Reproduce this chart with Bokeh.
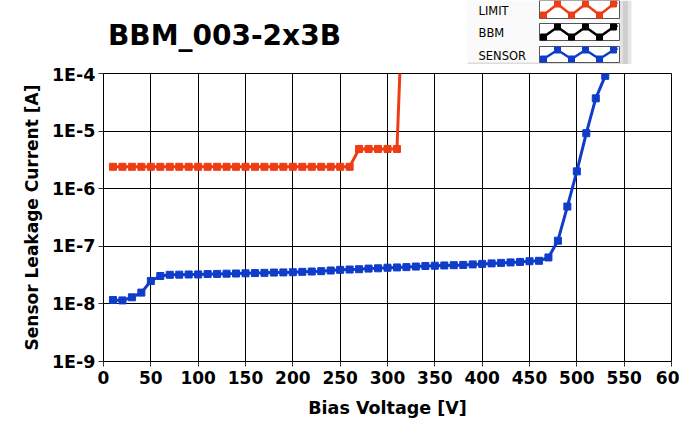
from bokeh.plotting import figure
from bokeh.layouts import column
from bokeh.models import Range1d, FixedTicker
from bokeh.embed import file_html
from bokeh.resources import INLINE
from bokeh.core.properties import value

# ---------------- data ----------------
TITLE = "BBM_003-2x3B"
X_LABEL = "Bias Voltage [V]"
Y_LABEL = "Sensor Leakage Current [A]"

X_TICKS = [0, 50, 100, 150, 200, 250, 300, 350, 400, 450, 500, 550, 600]
# the last label is cut by the window edge in the reference ("60")
X_TICK_LABELS = ["0", "50", "100", "150", "200", "250", "300", "350", "400",
                 "450", "500", "550", "60"]
Y_TICKS = [1e-9, 1e-8, 1e-7, 1e-6, 1e-5, 1e-4]
Y_TICK_LABELS = ["1E-9", "1E-8", "1E-7", "1E-6", "1E-5", "1E-4"]

LIMIT_V = [10, 20, 30, 40, 50, 60, 70, 80, 90, 100, 110, 120, 130, 140, 150,
           160, 170, 180, 190, 200, 210, 220, 230, 240, 250, 260,
           270, 280, 290, 300, 310, 320]
LIMIT_I = [2.4e-6] * 26 + [4.9e-6] * 5 + [1e-1]

SENSOR_V = [10, 20, 30, 40, 50, 60, 70, 80, 90, 100, 110, 120, 130, 140, 150,
            160, 170, 180, 190, 200, 210, 220, 230, 240, 250, 260, 270, 280,
            290, 300, 310, 320, 330, 340, 350, 360, 370, 380, 390, 400, 410,
            420, 430, 440, 450, 460, 470, 480, 490, 500, 510, 520, 530]
SENSOR_I = [1.17e-8, 1.15e-8, 1.30e-8, 1.57e-8, 2.50e-8, 3.05e-8, 3.20e-8,
            3.22e-8, 3.24e-8, 3.25e-8, 3.30e-8, 3.32e-8, 3.35e-8, 3.37e-8,
            3.40e-8, 3.43e-8, 3.46e-8, 3.50e-8, 3.52e-8, 3.55e-8, 3.60e-8,
            3.65e-8, 3.70e-8, 3.80e-8, 3.90e-8, 3.95e-8, 4.00e-8, 4.10e-8,
            4.15e-8, 4.25e-8, 4.30e-8, 4.35e-8, 4.45e-8, 4.55e-8, 4.60e-8,
            4.65e-8, 4.70e-8, 4.75e-8, 4.85e-8, 4.95e-8, 5.05e-8, 5.15e-8,
            5.25e-8, 5.35e-8, 5.50e-8, 5.60e-8, 6.40e-8, 1.25e-7, 4.90e-7,
            2.00e-6, 9.20e-6, 3.70e-5, 9.10e-5]

LEGEND_NAMES = ["LIMIT", "BBM", "SENSOR"]
LEGEND_COLORS = ["#EE3D14", "#000000", "#0F3CC9"]
ZIGZAG = [0, 1, 0, 1, 0, 1]          # legend sample pattern (low/high)

LIMIT_COLOR = LEGEND_COLORS[0]
SENSOR_COLOR = LEGEND_COLORS[2]
FONT = "DejaVu Sans"

W = 679
FRAME_L = 103
FRAME_R = 8

# ---------------- header (title + legend panel) ----------------
# header data coords: x = pixel x, y = HH - pixel y
HH = 64
hdr = figure(width=W, height=HH, x_range=Range1d(FRAME_L, W - FRAME_R),
             y_range=Range1d(0, HH),
             output_backend="svg", toolbar_location=None,
             x_axis_location=None, y_axis_location=None,
             min_border_left=FRAME_L, min_border_right=FRAME_R,
             min_border_top=0, min_border_bottom=0,
             outline_line_color=None)
hdr.xgrid.visible = False
hdr.ygrid.visible = False
hdr.background_fill_color = "white"
hdr.border_fill_color = "white"

hdr.text(x=[107.5], y=[HH - 35], text=[TITLE], text_font=value(FONT),
         text_font_style="bold", text_font_size="28px",
         text_color="black", text_align="left", text_baseline="middle")

# legend panel
hdr.quad(left=[467], right=[621], bottom=[1], top=[HH], fill_color="#FAFAFA",
         line_color=None)
hdr.quad(left=[619], right=[622], bottom=[1], top=[HH], fill_color="#E4E4E4",
         line_color=None)
hdr.quad(left=[622], right=[628], bottom=[0], top=[HH], fill_color="#CFCFCF",
         line_color=None)
hdr.quad(left=[628], right=[631], bottom=[0], top=[HH], fill_color="#E6E6E6",
         line_color=None)
hdr.quad(left=[467], right=[622], bottom=[0], top=[2], fill_color="#DCDCDC",
         line_color=None)

# rows (pixel y from top): box top/bottom and text centre
box_top_px = [0, 23, 46]
box_bot_px = [18, 40, 62]
text_px = [10, 32, 55]
for name, col, btp, bbp, tp in zip(LEGEND_NAMES, LEGEND_COLORS, box_top_px,
                                   box_bot_px, text_px):
    bt, bb, ty = HH - btp, HH - bbp, HH - tp
    hdr.text(x=[478], y=[ty], text=[name], text_font=value(FONT),
             text_font_size="11.5px", text_color="black",
             text_align="left", text_baseline="middle")
    hdr.quad(left=[539], right=[619], bottom=[bb], top=[bt],
             fill_color="white", line_color="#555555", line_width=1)
    zx = [543 + 14 * i for i in range(len(ZIGZAG))]
    zy = [bb + 3.5 + z * (bt - bb - 7) for z in ZIGZAG]
    hdr.line(zx + [617], zy + [zy[-1] + 1.5], line_color=col, line_width=2.5)
    hdr.scatter(zx, zy, marker="square", size=6, color=col)

# ---------------- main plot ----------------
p = figure(width=W, height=425 - HH, x_range=Range1d(0, 600),
           y_range=Range1d(1e-9, 1e-4), y_axis_type="log",
           output_backend="svg", toolbar_location=None,
           min_border_left=FRAME_L, min_border_right=FRAME_R,
           min_border_top=9, min_border_bottom=64)
p.background_fill_color = "white"
p.border_fill_color = "white"
p.outline_line_color = "black"
p.outline_line_width = 1

p.xaxis.ticker = FixedTicker(ticks=X_TICKS, minor_ticks=[])
p.yaxis.ticker = FixedTicker(ticks=Y_TICKS, minor_ticks=[])
p.xgrid.ticker = FixedTicker(ticks=X_TICKS, minor_ticks=[])
p.ygrid.ticker = FixedTicker(ticks=Y_TICKS, minor_ticks=[])
p.xaxis.major_label_overrides = dict(zip(X_TICKS, X_TICK_LABELS))
p.yaxis.major_label_overrides = dict(zip(Y_TICKS, Y_TICK_LABELS))

for g in (p.xgrid, p.ygrid):
    g.grid_line_color = "black"
    g.grid_line_alpha = 1.0
    g.grid_line_width = 1

for ax in (p.xaxis, p.yaxis):
    ax.axis_line_color = "black"
    ax.major_tick_line_color = "#333333"
    ax.major_tick_out = 5
    ax.major_tick_in = 0
    ax.minor_tick_line_color = None
    ax.major_label_text_font = FONT
    ax.major_label_text_font_style = "bold"
    ax.major_label_text_color = "black"
    ax.axis_label_text_font = FONT
    ax.axis_label_text_font_style = "bold"
    ax.axis_label_text_color = "black"

p.xaxis.major_label_text_font_size = "17px"
p.yaxis.major_label_text_font_size = "17.5px"
p.xaxis.axis_label_text_font_size = "17.5px"
p.yaxis.axis_label_text_font_size = "17px"
p.xaxis.axis_label = X_LABEL
p.yaxis.axis_label = Y_LABEL
p.xaxis.major_label_standoff = 4
p.yaxis.major_label_standoff = 3
p.xaxis.axis_label_standoff = 11
p.yaxis.axis_label_standoff = 7

p.line(LIMIT_V, LIMIT_I, line_color=LIMIT_COLOR, line_width=3)
p.scatter(LIMIT_V, LIMIT_I, marker="square", size=7, color=LIMIT_COLOR)
p.line(SENSOR_V, SENSOR_I, line_color=SENSOR_COLOR, line_width=3)
p.scatter(SENSOR_V, SENSOR_I, marker="square", size=7, color=SENSOR_COLOR)

layout = column(hdr, p, spacing=0)
open("out.html", "w").write(file_html(layout, INLINE))
